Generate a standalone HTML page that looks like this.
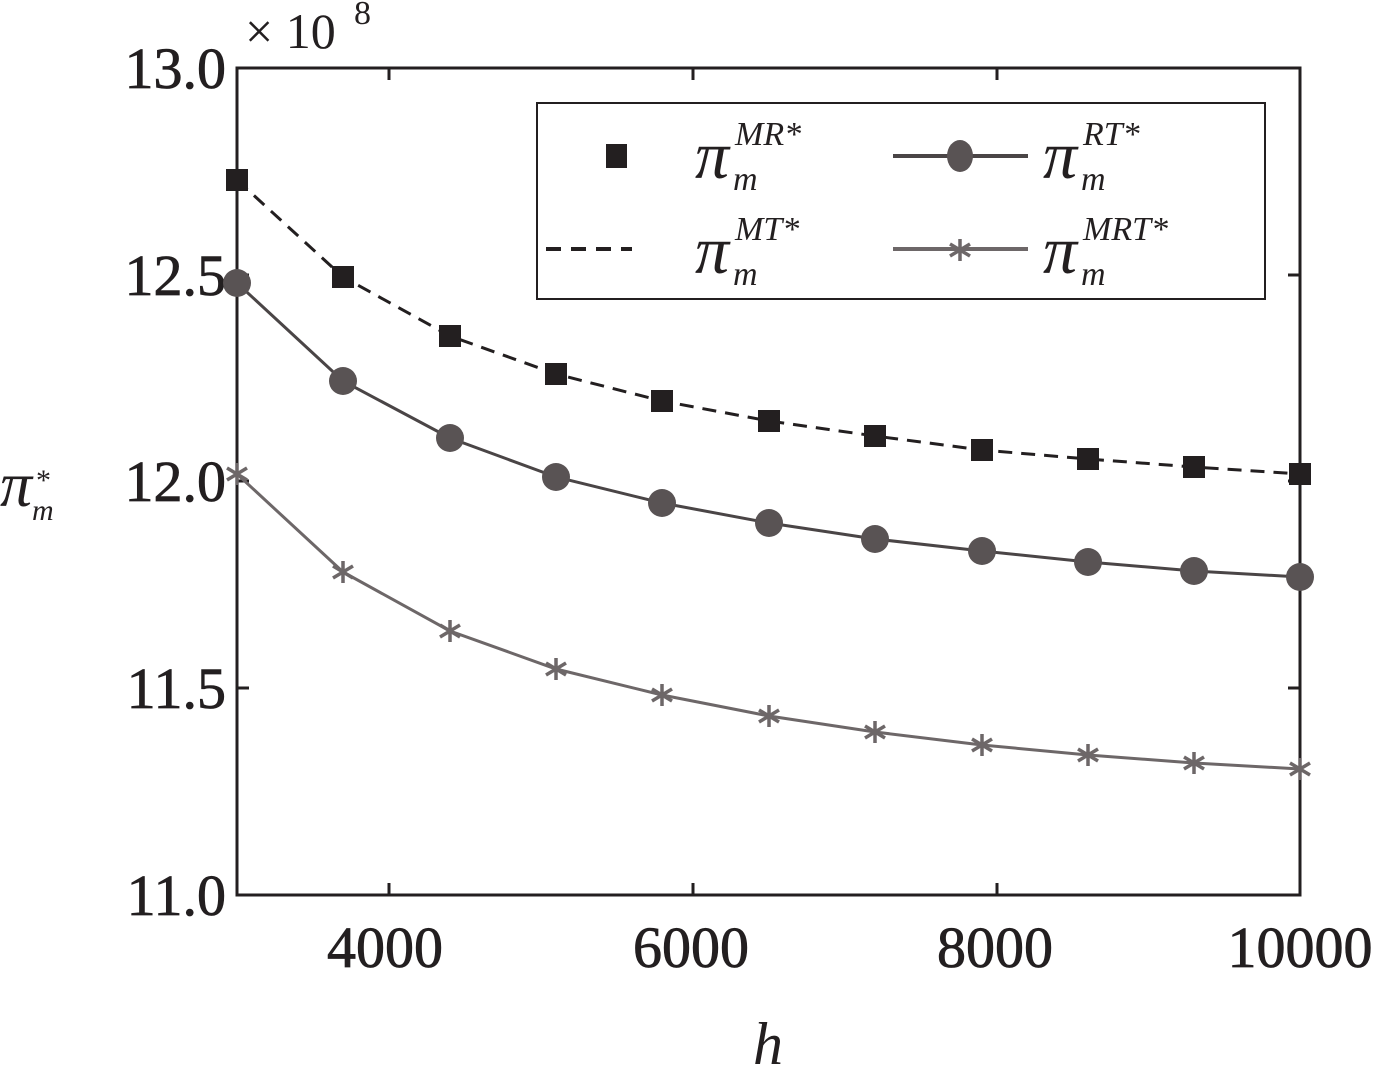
<!DOCTYPE html>
<html><head><style>body{margin:0;background:#fff}svg{display:block}text{font-family:"Liberation Serif",serif}</style></head><body>
<svg width="1385" height="1076" viewBox="0 0 1385 1076" xmlns="http://www.w3.org/2000/svg">
<defs>
<g id="st"><path d="M0,-11V11M-10,-6L10,6M-10,6L10,-6" stroke="#6d6768" stroke-width="3.5"/></g>
</defs>
<rect x="237" y="68" width="1063" height="827" fill="none" stroke="#231f20" stroke-width="3"/>
<g stroke="#231f20" stroke-width="3">
<line x1="389" y1="895" x2="389" y2="883"/><line x1="693" y1="895" x2="693" y2="883"/><line x1="997" y1="895" x2="997" y2="883"/>
<line x1="389" y1="68" x2="389" y2="80"/><line x1="693" y1="68" x2="693" y2="80"/><line x1="997" y1="68" x2="997" y2="80"/>
<line x1="237" y1="275" x2="249" y2="275"/><line x1="237" y1="481" x2="249" y2="481"/><line x1="237" y1="688" x2="249" y2="688"/>
<line x1="1300" y1="275" x2="1288" y2="275"/><line x1="1300" y1="481" x2="1288" y2="481"/><line x1="1300" y1="688" x2="1288" y2="688"/>
</g>
<g font-size="58" fill="#231f20" text-anchor="end" stroke="#231f20" stroke-width="0.8">
<text x="226" y="88">13.0</text><text x="226" y="295">12.5</text><text x="226" y="501">12.0</text><text x="226" y="708">11.5</text><text x="226" y="915">11.0</text>
</g>
<g font-size="58" fill="#231f20" text-anchor="middle" stroke="#231f20" stroke-width="0.8">
<text x="385" y="967">4000</text><text x="691" y="967">6000</text><text x="995" y="967">8000</text><text x="1300" y="967">10000</text>
</g>
<text x="245" y="48" font-size="50" fill="#231f20">× 10</text><text x="354" y="24" font-size="34" fill="#231f20">8</text>
<text x="768" y="1064" font-size="60" font-style="italic" fill="#231f20" text-anchor="middle">h</text>
<text x="0" y="506" font-size="64" font-style="italic" fill="#231f20">π</text>
<text x="36" y="490" font-size="30" fill="#231f20">*</text>
<text x="32" y="520" font-size="30" font-style="italic" fill="#231f20">m</text>
<polyline fill="none" stroke="#231f20" stroke-width="3" stroke-dasharray="14,9" points="237,180 343,277 450,336 556,374 662,401 769,421 875,436 982,450 1088,459 1194,467 1300,474"/>
<g fill="#231f20">
<rect x="226" y="169" width="22" height="22"/><rect x="332" y="266" width="22" height="22"/><rect x="439" y="325" width="22" height="22"/><rect x="545" y="363" width="22" height="22"/><rect x="651" y="390" width="22" height="22"/><rect x="758" y="410" width="22" height="22"/><rect x="864" y="425" width="22" height="22"/><rect x="971" y="439" width="22" height="22"/><rect x="1077" y="448" width="22" height="22"/><rect x="1183" y="456" width="22" height="22"/><rect x="1289" y="463" width="22" height="22"/>
</g>
<polyline fill="none" stroke="#4a4546" stroke-width="3" points="237,283 343,381 450,438 556,477 662,503 769,523 875,539 982,551 1088,562 1194,571 1300,577"/>
<g fill="#595354">
<circle cx="237" cy="283" r="14"/><circle cx="343" cy="381" r="14"/><circle cx="450" cy="438" r="14"/><circle cx="556" cy="477" r="14"/><circle cx="662" cy="503" r="14"/><circle cx="769" cy="523" r="14"/><circle cx="875" cy="539" r="14"/><circle cx="982" cy="551" r="14"/><circle cx="1088" cy="562" r="14"/><circle cx="1194" cy="571" r="14"/><circle cx="1300" cy="577" r="14"/>
</g>
<polyline fill="none" stroke="#6d6768" stroke-width="3" points="237,474 343,572 450,631 556,669 662,695 769,716 875,732 982,745 1088,755 1194,763 1300,769"/>
<use href="#st" x="237" y="474"/><use href="#st" x="343" y="572"/><use href="#st" x="450" y="631"/><use href="#st" x="556" y="669"/><use href="#st" x="662" y="695"/><use href="#st" x="769" y="716"/><use href="#st" x="875" y="732"/><use href="#st" x="982" y="745"/><use href="#st" x="1088" y="755"/><use href="#st" x="1194" y="763"/><use href="#st" x="1300" y="769"/>
<rect x="537" y="103" width="728" height="196" fill="#fff" stroke="#231f20" stroke-width="2"/>
<rect x="606" y="144" width="21" height="24" fill="#231f20"/>
<line x1="546" y1="249" x2="632" y2="249" stroke="#231f20" stroke-width="4" stroke-dasharray="15,10"/>
<line x1="893" y1="156" x2="1028" y2="156" stroke="#4a4546" stroke-width="4"/>
<ellipse cx="960" cy="156" rx="13" ry="16" fill="#595354"/>
<line x1="893" y1="249" x2="1028" y2="249" stroke="#6d6768" stroke-width="4"/>
<use href="#st" x="960" y="250"/>
<g fill="#231f20" font-style="italic">
<text x="695" y="178" font-size="68">π</text><text x="735" y="145" font-size="34">MR*</text><text x="733" y="190" font-size="34">m</text>
<text x="695" y="273" font-size="68">π</text><text x="735" y="240" font-size="34">MT*</text><text x="733" y="285" font-size="34">m</text>
<text x="1043" y="178" font-size="68">π</text><text x="1083" y="145" font-size="34">RT*</text><text x="1081" y="190" font-size="34">m</text>
<text x="1043" y="273" font-size="68">π</text><text x="1083" y="240" font-size="34">MRT*</text><text x="1081" y="285" font-size="34">m</text>
</g>
</svg>
</body></html>
